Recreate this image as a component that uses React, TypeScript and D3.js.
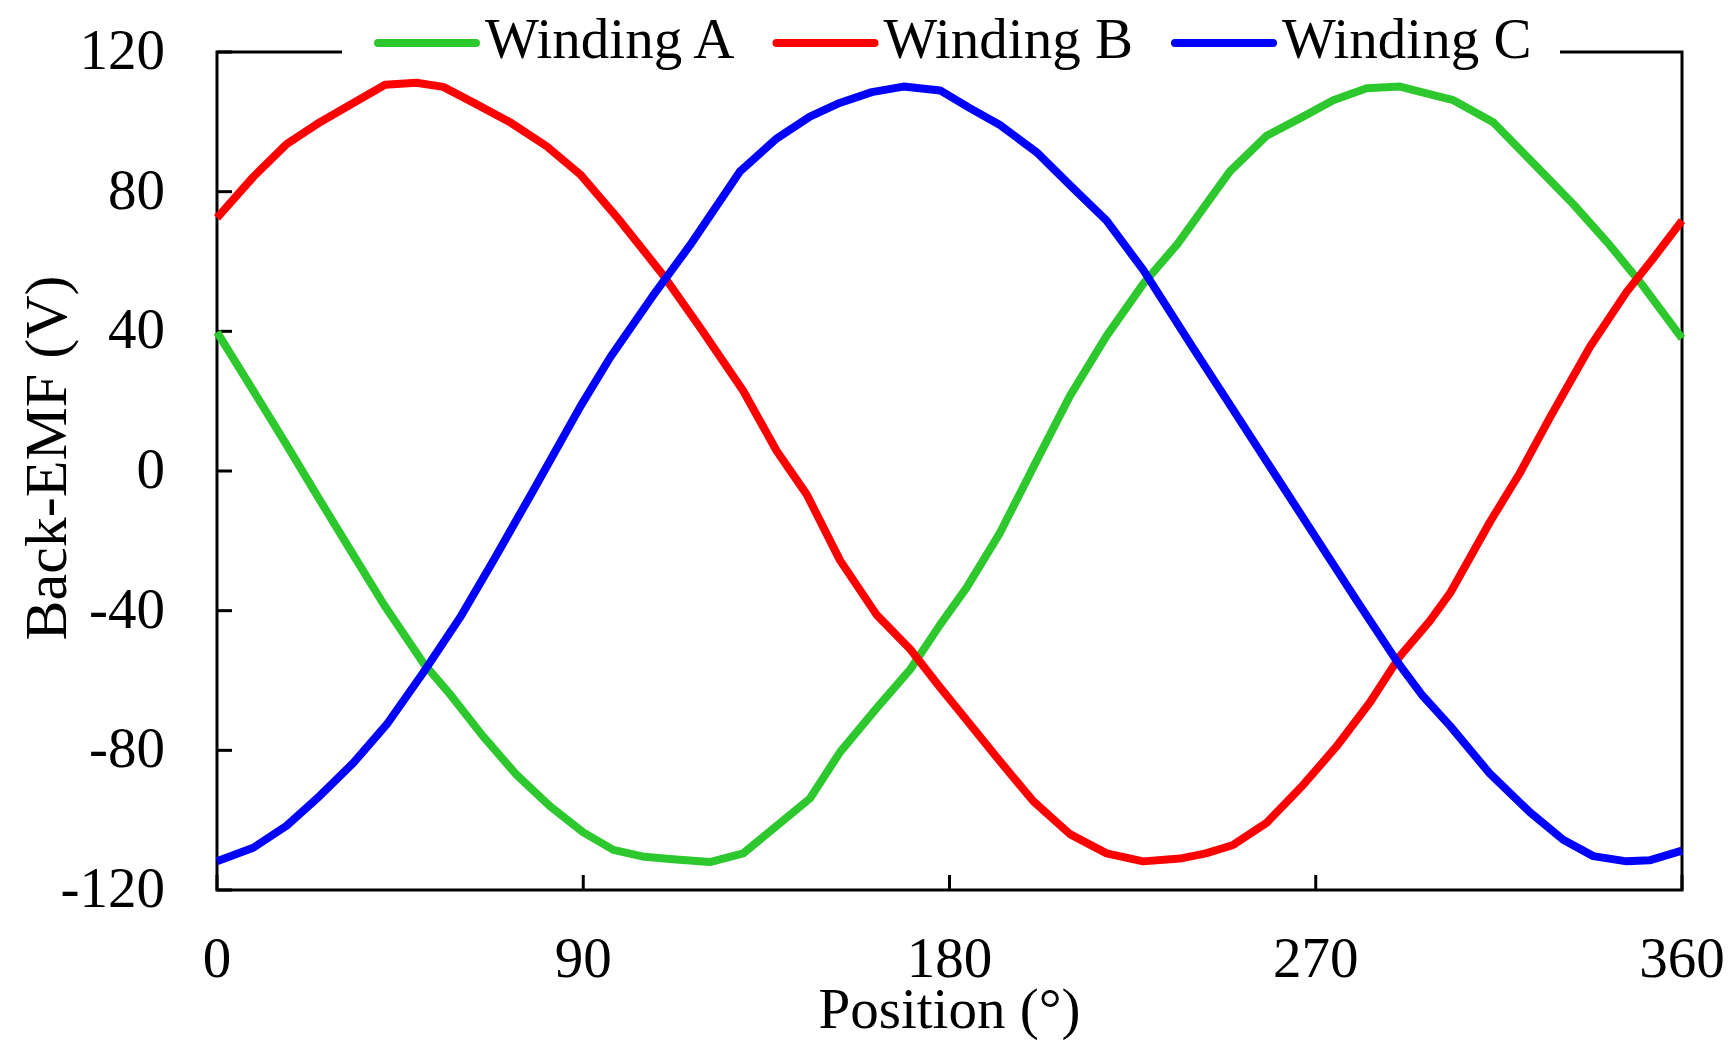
import React from 'react';
import * as d3 from 'd3';

const xTicks = [0, 90, 180, 270, 360];
const yTicks = [-120, -80, -40, 0, 40, 80, 120];
const seriesNames = ['Winding A', 'Winding B', 'Winding C'];
const seriesColors = ['#2DC82D', '#FF0000', '#0000FF'];

const posA = [0, 8.9, 17.1, 25.3, 33.5, 40.9, 50.7, 57.3, 65.4, 73.6, 81.8, 90, 97.4, 105, 112, 121.1, 129.3, 136.7, 145.7, 153.1, 162.1, 170.3, 177.7, 184.2, 192.4, 200.6, 209.6, 218.6, 227.6, 236, 248.9, 257.9, 266.9, 274.3, 282.5, 290.7, 296, 303.8, 313.6, 323.5, 333.3, 342.3, 350.5, 360];
const valA = [39.8, 23, 7.5, -8.4, -24, -38.1, -55, -64, -76, -87, -96, -103.5, -108.5, -110.5, -111.2, -112, -109.5, -102.4, -93.8, -80.5, -67.9, -56.9, -44, -33.4, -17.7, 1.1, 21.5, 38.7, 53.6, 65, 85.8, 96, 101.5, 106.2, 109.6, 110.1, 108.5, 106.2, 99.9, 88.1, 76.4, 64.6, 52.9, 38];

const posB = [0, 8.9, 17.1, 25.3, 33.5, 41.3, 49, 55.6, 63, 72, 81, 89.2, 99, 109.7, 118.7, 129.3, 137.5, 144.9, 153.1, 162.1, 170.3, 177.7, 182.6, 191.6, 200.6, 209.6, 218.6, 227.6, 236.6, 243, 249.7, 257.9, 266.9, 275.1, 283.3, 290.7, 298, 303, 312.8, 320.2, 327.5, 337.4, 346.4, 353, 360];
const valB = [72.5, 84.2, 93.6, 99.9, 105.4, 110.6, 111.2, 110, 105.5, 99.9, 93, 85, 71.7, 56, 41.1, 23, 5.8, -6.7, -25.6, -41.2, -51, -62, -69, -82, -94.6, -104, -109.5, -111.8, -111, -109.5, -107.1, -100.8, -89.9, -78.9, -66.3, -53, -43, -35, -14.6, -0.5, 15.2, 35.6, 51.3, 61, 71.7];

const posC = [0, 8.9, 17.1, 25.3, 33.5, 41.7, 50.7, 59.7, 68, 78, 89.2, 96.6, 107, 116.2, 128.5, 137.5, 145.7, 153, 160.9, 168.7, 177.7, 184.9, 192.4, 201.4, 209.6, 218.6, 227.6, 240, 250, 260, 270, 280, 290, 296, 303, 312.8, 322.6, 330.8, 338.2, 346.4, 352, 360];
const valC = [-111.8, -107.9, -101.6, -93, -83.6, -72.6, -57.7, -42, -25.5, -5, 18.3, 32.5, 50, 64.6, 85.8, 95.2, 101.5, 105.4, 108.5, 110.1, 109, 104, 99.1, 91.3, 81.9, 71.7, 57.6, 35, 17, -1, -19, -37, -54.6, -64, -73, -86.7, -97.7, -105.6, -110.3, -111.8, -111.5, -108.7];

const seriesPos = [posA, posB, posC];
const seriesVal = [valA, valB, valC];

export default function App() {
  const W = 1728, H = 1051;
  const left = 217, right = 1682, top = 52, bottom = 890;
  const x = d3.scaleLinear().domain([0, 360]).range([left, right]);
  const y = d3.scaleLinear().domain([-120, 120]).range([bottom, top]);
  const font = "'Liberation Serif', 'Times New Roman', serif";
  const fs = 57;

  const paths = seriesPos.map((pos, s) => {
    const pts: [number, number][] = pos.map((p, i) => [x(p), y(seriesVal[s][i])]);
    return d3.line()(pts) as string;
  });

  const legendStart = 378;
  const legendStep = 398.5;
  const legendLen = 98;
  const legendY = 43;

  return (
    <svg width={W} height={H} style={{ position: 'absolute', left: 0, top: 0, display: 'block', background: '#fff' }}>
      <rect x={0} y={0} width={W} height={H} fill="#fff" />
      <rect x={left} y={top} width={right - left} height={bottom - top} fill="none" stroke="#000" strokeWidth={3} />
      {yTicks.map(t => (
        <line key={'yt' + t} x1={left} x2={left + 15} y1={y(t)} y2={y(t)} stroke="#000" strokeWidth={3} />
      ))}
      {xTicks.map(t => (
        <line key={'xt' + t} x1={x(t)} x2={x(t)} y1={bottom} y2={bottom - 15} stroke="#000" strokeWidth={3} />
      ))}
      {paths.map((d, s) => (
        <path key={'p' + s} d={d} fill="none" stroke={seriesColors[s]} strokeWidth={8} strokeLinejoin="round" strokeLinecap="butt" />
      ))}
      <rect x={342} y={20} width={1560 - 342} height={42} fill="#fff" />
      {seriesNames.map((n, i) => {
        const lx = legendStart + i * legendStep;
        return (
          <g key={'lg' + i}>
            <line x1={lx} x2={lx + legendLen} y1={legendY} y2={legendY} stroke={seriesColors[i]} strokeWidth={8} strokeLinecap="round" />
            <text x={lx + legendLen + 9} y={58} fontFamily={font} fontSize={fs} fill="#000">{n}</text>
          </g>
        );
      })}
      {yTicks.map(t => (
        <text key={'yl' + t} x={165} y={y(t) + 17} textAnchor="end" fontFamily={font} fontSize={fs} fill="#000">{t}</text>
      ))}
      {xTicks.map(t => (
        <text key={'xl' + t} x={x(t)} y={977} textAnchor="middle" fontFamily={font} fontSize={fs} fill="#000">{t}</text>
      ))}
      <text x={(left + right) / 2} y={1028} textAnchor="middle" fontFamily={font} fontSize={fs} fill="#000">Position (°)</text>
      <text transform={`translate(66, 458) rotate(-90)`} textAnchor="middle" fontFamily={font} fontSize={60} fill="#000">Back-EMF (V)</text>
    </svg>
  );
}
